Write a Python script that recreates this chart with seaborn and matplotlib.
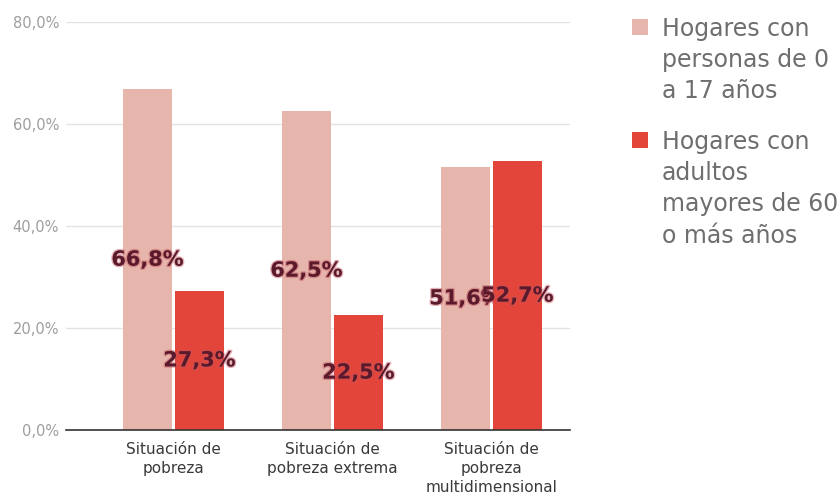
import matplotlib
matplotlib.use("Agg")
import matplotlib.pyplot as plt
import matplotlib.patheffects as pe
from matplotlib.patches import Rectangle
import seaborn as sns
import pandas as pd

categories = ["Situación de\npobreza", "Situación de\npobreza extrema", "Situación de\npobreza\nmultidimensional"]
series_names = ["Hogares con\npersonas de 0\na 17 años", "Hogares con\nadultos\nmayores de 60\no más años"]
jovenes = [66.8, 62.5, 51.6]
mayores = [27.3, 22.5, 52.7]
y_ticks = [0, 20, 40, 60, 80]
y_tick_labels = ["0,0%", "20,0%", "40,0%", "60,0%", "80,0%"]

colors = ["#e6b6ad", "#e3453a"]

df = pd.DataFrame({
    "categoria": categories * 2,
    "valor": jovenes + mayores,
    "serie": [series_names[0]] * 3 + [series_names[1]] * 3,
})

sns.set_theme(style="white")
plt.rcParams["font.family"] = ["DejaVu Sans"]

W, H = 839, 503
fig = plt.figure(figsize=(W / 100, H / 100), dpi=100)
ax = fig.add_axes([66 / W, 1 - 430 / H, (570 - 66) / W, (430 - 22) / H])

sns.barplot(data=df, x="categoria", y="valor", hue="serie", order=categories,
            hue_order=series_names, palette=colors, width=0.654, gap=0.058,
            saturation=1, legend=False, ax=ax, errorbar=None, linewidth=0)

ax.set_ylim(0, 80)
ax.set_xlim(-0.676, 2.494)
ax.set_yticks(y_ticks)
ax.set_yticklabels(y_tick_labels, fontsize=10.5, color="#9e9e9e")
ax.tick_params(axis="x", labelsize=11, labelcolor="#3a3a3a", length=0, pad=9)
for lbl in ax.get_xticklabels():
    lbl.set_linespacing(1.3)
ax.tick_params(axis="y", length=0, pad=5)
ax.set_xlabel("")
ax.set_ylabel("")
for s in ["top", "right", "left"]:
    ax.spines[s].set_visible(False)
ax.spines["bottom"].set_color("#333333")
ax.spines["bottom"].set_linewidth(1.2)
ax.spines["bottom"].set_zorder(10)
ax.yaxis.grid(True, color="#e3e3e3", linewidth=1)
ax.set_axisbelow(True)

# value labels sit in the middle of each bar; later series draw over earlier labels
halo = [pe.withStroke(linewidth=2.0, foreground="#c45560", alpha=0.45)]
for i, cont in enumerate(ax.containers):
    for bar in cont.patches:
        bar.set_zorder(2 + 2 * i)
        h = bar.get_height()
        ax.text(bar.get_x() + bar.get_width() / 2, h / 2,
                f"{h:.1f}%".replace(".", ","), ha="center", va="center",
                fontsize=15, fontweight="bold", color="#5a1a2c",
                path_effects=halo, zorder=3 + 2 * i)

# legend on the right: square swatch beside the first line of each label
legend_tops = [17, 130]
for name, color, top in zip(series_names, colors, legend_tops):
    fig.patches.append(Rectangle((632 / W, 1 - (top + 18) / H), 16 / W, 16 / H,
                                 transform=fig.transFigure, facecolor=color,
                                 edgecolor="none"))
    fig.text(662 / W, 1 - top / H, name, ha="left", va="top",
             fontsize=17, color="#6e6e6e", linespacing=1.38)

fig.savefig("out.png", dpi=100)
